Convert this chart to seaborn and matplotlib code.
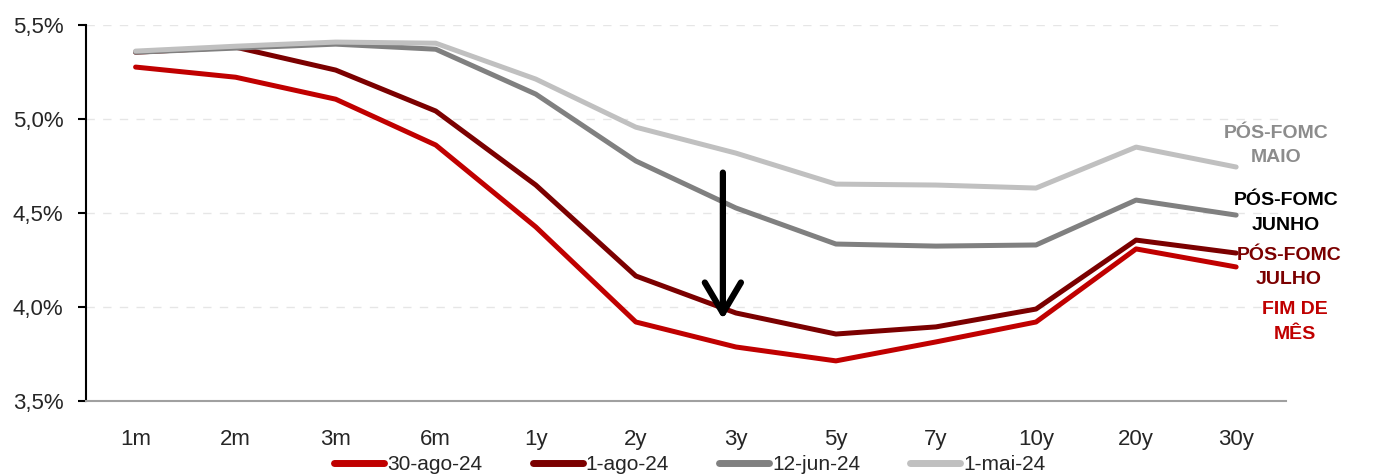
import pandas as pd
import matplotlib.pyplot as plt
import matplotlib.ticker as mticker
import seaborn as sns

# Vértices da curva
vertices = ["1m", "2m", "3m", "6m", "1y", "2y", "3y", "5y", "7y", "10y", "20y", "30y"]

# Curvas por data (%)
ago30 = [5.277, 5.223, 5.106, 4.862, 4.426, 3.920, 3.787, 3.713, 3.814, 3.920, 4.309, 4.213]
ago1 = [5.356, 5.383, 5.261, 5.043, 4.649, 4.165, 3.968, 3.856, 3.894, 3.989, 4.356, 4.287]
jun12 = [5.356, 5.378, 5.399, 5.372, 5.133, 4.777, 4.527, 4.335, 4.324, 4.330, 4.569, 4.489]
mai1 = [5.362, 5.388, 5.410, 5.404, 5.213, 4.957, 4.819, 4.654, 4.649, 4.633, 4.851, 4.745]

series = ["30-ago-24", "1-ago-24", "12-jun-24", "1-mai-24"]
cores = ["#C00000", "#7B0000", "#808080", "#C0C0C0"]

# Montar dataframe longo
df = pd.concat([
    pd.DataFrame({"vertice": vertices, "taxa": vals, "data": nome})
    for nome, vals in zip(series, [ago30, ago1, jun12, mai1])
])

sns.set_style("white")
plt.rcParams["font.family"] = ["Liberation Sans", "DejaVu Sans"]

fig, ax = plt.subplots(figsize=(13.8, 4.75), dpi=100)
fig.subplots_adjust(left=0.062, right=0.932, top=0.947, bottom=0.156)

sns.lineplot(data=df, x="vertice", y="taxa", hue="data", hue_order=series,
             palette=cores, linewidth=3.6, sort=False, ax=ax,
             solid_capstyle="round")

# Eixos
ax.set_xlim(-0.5, len(vertices) - 0.5)
ax.set_ylim(3.5, 5.5)
ax.set_yticks([3.5, 4.0, 4.5, 5.0, 5.5])
ax.yaxis.set_major_formatter(mticker.FuncFormatter(lambda v, p: f"{v:.1f}%".replace(".", ",")))
ax.set_xlabel("")
ax.set_ylabel("")
ax.set_xticks(range(len(vertices)))
ax.set_xticklabels(vertices)
ax.set_xticks([i - 0.5 for i in range(len(vertices) + 1)], minor=True)
ax.tick_params(axis="x", which="major", length=0, labelsize=16, pad=20)
ax.tick_params(axis="x", which="minor", length=6, color="#A0A0A0", width=1.5, direction="out")
ax.tick_params(axis="y", length=6, width=1.5, color="black", labelsize=16, left=True, pad=10)
ax.grid(axis="y", linestyle=(0, (6, 6)), color="#E6E6E6", linewidth=1)
ax.set_axisbelow(True)
for lado in ["top", "right"]:
    ax.spines[lado].set_visible(False)
ax.spines["left"].set_color("black")
ax.spines["left"].set_linewidth(1.5)
ax.spines["bottom"].set_color("#A0A0A0")
ax.spines["bottom"].set_linewidth(1.5)

# Rótulos à direita
rotulos = [
    ("PÓS-FOMC\nMAIO", "#8C8C8C", 11.4, 4.86),
    ("PÓS-FOMC\nJUNHO", "black", 11.5, 4.50),
    ("PÓS-FOMC\nJULHO", "#7B0000", 11.53, 4.21),
    ("FIM DE\nMÊS", "#C00000", 11.59, 3.92),
]
for txt, cor, xx, yy in rotulos:
    ax.text(xx, yy, txt, color=cor, fontsize=14, fontweight="bold",
            ha="center", va="center", linespacing=1.55, clip_on=False)

# Seta
ax.annotate("", xy=(5.87, 3.92), xytext=(5.87, 4.73),
            arrowprops=dict(arrowstyle="->,head_length=1.1,head_width=0.65",
                            mutation_scale=20, color="black", lw=4.5))

leg = fig.legend(*ax.get_legend_handles_labels(), loc="center",
                 bbox_to_anchor=(0.5, 0.022), bbox_transform=fig.transFigure,
                 ncol=4, frameon=False, fontsize=15, handlelength=2.4,
                 handletextpad=0.15, columnspacing=2.4, borderpad=0)
ax.get_legend().remove()
for ln in leg.get_lines():
    ln.set_linewidth(5)

plt.savefig("out.png", dpi=100)
plt.close()
